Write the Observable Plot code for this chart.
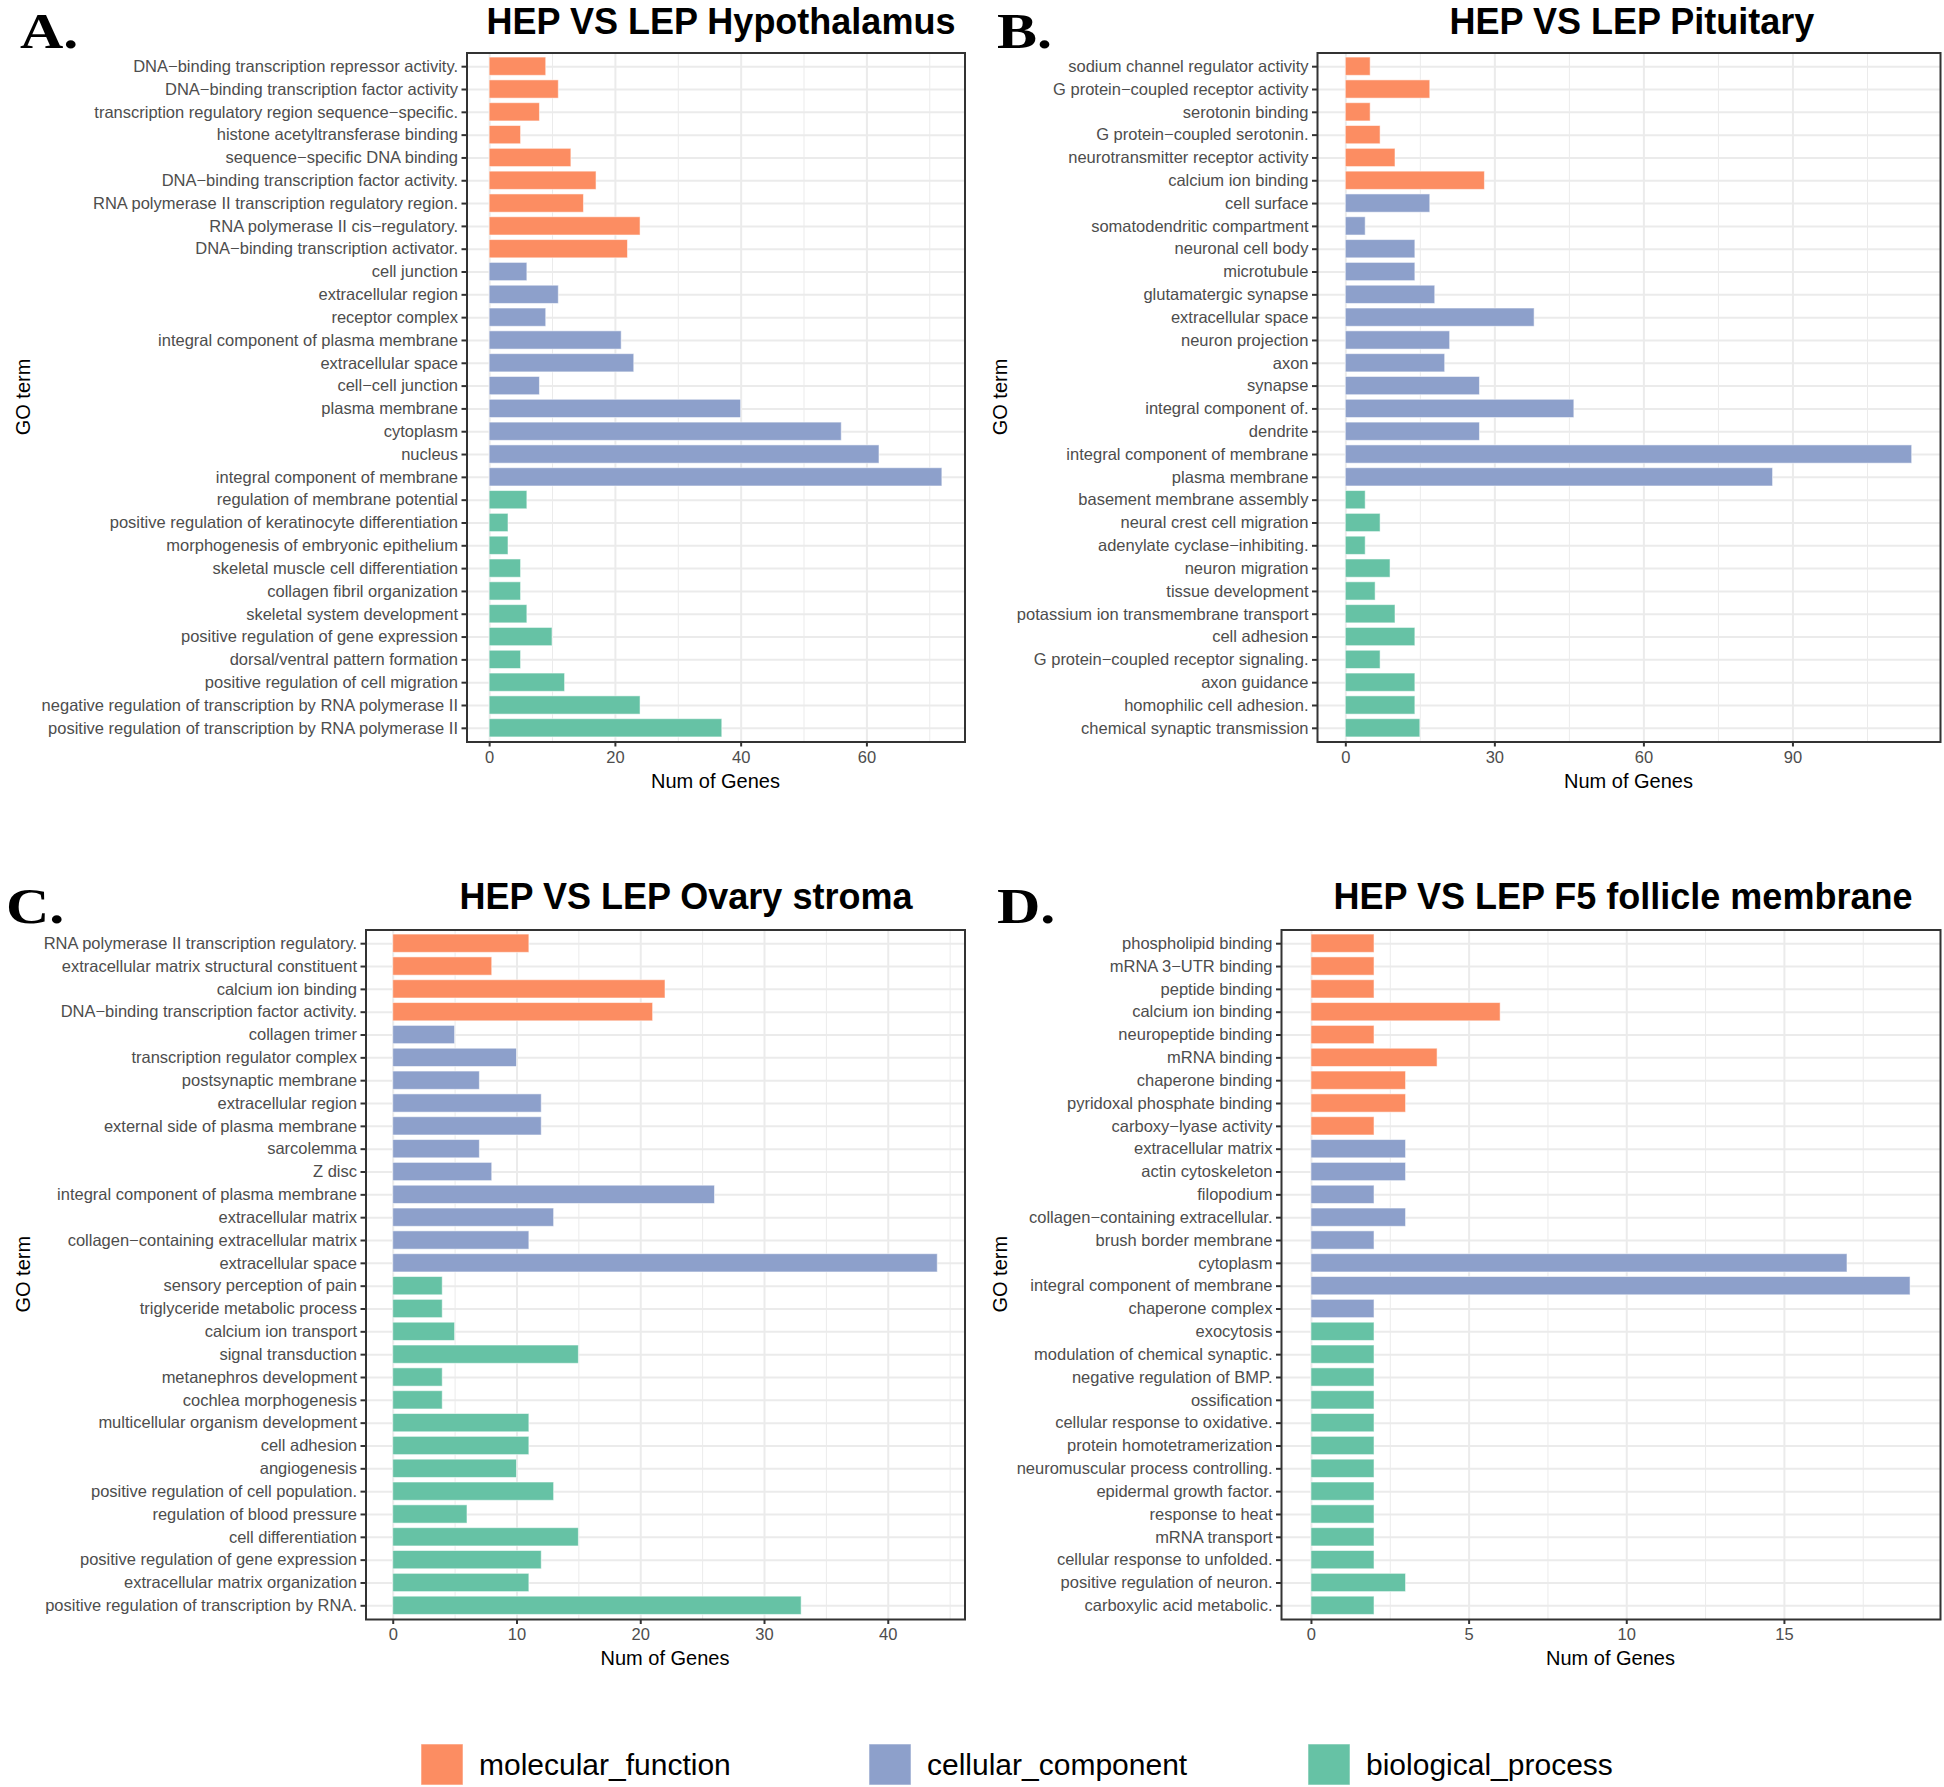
<!DOCTYPE html>
<html><head><meta charset="utf-8">
<script src="https://cdn.jsdelivr.net/npm/d3@7"></script>
<script src="https://cdn.jsdelivr.net/npm/@observablehq/plot@0.6"></script>
<style>
html,body{margin:0;padding:0;background:#fff;}
#root{position:relative;width:1944px;height:1787px;overflow:hidden;background:#fff;}
.panel{position:absolute;}
#overlay{position:absolute;left:0;top:0;}
</style></head>
<body><div id="root"></div>
<script>
// ---------- data ----------
const ontologies = ["molecular_function", "cellular_component", "biological_process"];
const ontologyColors = ["#FC8D62", "#8DA0CB", "#66C2A5"];

const titleA = "HEP VS LEP Hypothalamus";
const termsA = [
  "DNA−binding transcription repressor activity.",
  "DNA−binding transcription factor activity",
  "transcription regulatory region sequence−specific.",
  "histone acetyltransferase binding",
  "sequence−specific DNA binding",
  "DNA−binding transcription factor activity.",
  "RNA polymerase II transcription regulatory region.",
  "RNA polymerase II cis−regulatory.",
  "DNA−binding transcription activator.",
  "cell junction",
  "extracellular region",
  "receptor complex",
  "integral component of plasma membrane",
  "extracellular space",
  "cell−cell junction",
  "plasma membrane",
  "cytoplasm",
  "nucleus",
  "integral component of membrane",
  "regulation of membrane potential",
  "positive regulation of keratinocyte differentiation",
  "morphogenesis of embryonic epithelium",
  "skeletal muscle cell differentiation",
  "collagen fibril organization",
  "skeletal system development",
  "positive regulation of gene expression",
  "dorsal/ventral pattern formation",
  "positive regulation of cell migration",
  "negative regulation of transcription by RNA polymerase II",
  "positive regulation of transcription by RNA polymerase II"
];
const genesA = [9, 11, 8, 5, 13, 17, 15, 24, 22, 6, 11, 9, 21, 23, 8, 40, 56, 62, 72, 6, 3, 3, 5, 5, 6, 10, 5, 12, 24, 37];
const ontA = ["MF","MF","MF","MF","MF","MF","MF","MF","MF",
  "CC","CC","CC","CC","CC","CC","CC","CC","CC","CC",
  "BP","BP","BP","BP","BP","BP","BP","BP","BP","BP","BP"];
const ticksA = [0, 20, 40, 60];
const minorA = [10, 30, 50, 70];

const titleB = "HEP VS LEP Pituitary";
const termsB = [
  "sodium channel regulator activity",
  "G protein−coupled receptor activity",
  "serotonin binding",
  "G protein−coupled serotonin.",
  "neurotransmitter receptor activity",
  "calcium ion binding",
  "cell surface",
  "somatodendritic compartment",
  "neuronal cell body",
  "microtubule",
  "glutamatergic synapse",
  "extracellular space",
  "neuron projection",
  "axon",
  "synapse",
  "integral component of.",
  "dendrite",
  "integral component of membrane",
  "plasma membrane",
  "basement membrane assembly",
  "neural crest cell migration",
  "adenylate cyclase−inhibiting.",
  "neuron migration",
  "tissue development",
  "potassium ion transmembrane transport",
  "cell adhesion",
  "G protein−coupled receptor signaling.",
  "axon guidance",
  "homophilic cell adhesion.",
  "chemical synaptic transmission"
];
const genesB = [5, 17, 5, 7, 10, 28, 17, 4, 14, 14, 18, 38, 21, 20, 27, 46, 27, 114, 86, 4, 7, 4, 9, 6, 10, 14, 7, 14, 14, 15];
const ontB = ["MF","MF","MF","MF","MF","MF",
  "CC","CC","CC","CC","CC","CC","CC","CC","CC","CC","CC","CC","CC",
  "BP","BP","BP","BP","BP","BP","BP","BP","BP","BP","BP"];
const ticksB = [0, 30, 60, 90];
const minorB = [15, 45, 75, 105];

const titleC = "HEP VS LEP Ovary stroma";
const termsC = [
  "RNA polymerase II transcription regulatory.",
  "extracellular matrix structural constituent",
  "calcium ion binding",
  "DNA−binding transcription factor activity.",
  "collagen trimer",
  "transcription regulator complex",
  "postsynaptic membrane",
  "extracellular region",
  "external side of plasma membrane",
  "sarcolemma",
  "Z disc",
  "integral component of plasma membrane",
  "extracellular matrix",
  "collagen−containing extracellular matrix",
  "extracellular space",
  "sensory perception of pain",
  "triglyceride metabolic process",
  "calcium ion transport",
  "signal transduction",
  "metanephros development",
  "cochlea morphogenesis",
  "multicellular organism development",
  "cell adhesion",
  "angiogenesis",
  "positive regulation of cell population.",
  "regulation of blood pressure",
  "cell differentiation",
  "positive regulation of gene expression",
  "extracellular matrix organization",
  "positive regulation of transcription by RNA."
];
const genesC = [11, 8, 22, 21, 5, 10, 7, 12, 12, 7, 8, 26, 13, 11, 44, 4, 4, 5, 15, 4, 4, 11, 11, 10, 13, 6, 15, 12, 11, 33];
const ontC = ["MF","MF","MF","MF",
  "CC","CC","CC","CC","CC","CC","CC","CC","CC","CC","CC",
  "BP","BP","BP","BP","BP","BP","BP","BP","BP","BP","BP","BP","BP","BP","BP"];
const ticksC = [0, 10, 20, 30, 40];
const minorC = [5, 15, 25, 35, 45];

const titleD = "HEP VS LEP F5 follicle membrane";
const termsD = [
  "phospholipid binding",
  "mRNA 3−UTR binding",
  "peptide binding",
  "calcium ion binding",
  "neuropeptide binding",
  "mRNA binding",
  "chaperone binding",
  "pyridoxal phosphate binding",
  "carboxy−lyase activity",
  "extracellular matrix",
  "actin cytoskeleton",
  "filopodium",
  "collagen−containing extracellular.",
  "brush border membrane",
  "cytoplasm",
  "integral component of membrane",
  "chaperone complex",
  "exocytosis",
  "modulation of chemical synaptic.",
  "negative regulation of BMP.",
  "ossification",
  "cellular response to oxidative.",
  "protein homotetramerization",
  "neuromuscular process controlling.",
  "epidermal growth factor.",
  "response to heat",
  "mRNA transport",
  "cellular response to unfolded.",
  "positive regulation of neuron.",
  "carboxylic acid metabolic."
];
const genesD = [2, 2, 2, 6, 2, 4, 3, 3, 2, 3, 3, 2, 3, 2, 17, 19, 2, 2, 2, 2, 2, 2, 2, 2, 2, 2, 2, 2, 3, 2];
const ontD = ["MF","MF","MF","MF","MF","MF","MF","MF","MF",
  "CC","CC","CC","CC","CC","CC","CC","CC",
  "BP","BP","BP","BP","BP","BP","BP","BP","BP","BP","BP","BP","BP"];
const ticksD = [0, 5, 10, 15];
const minorD = [2.5, 7.5, 12.5, 17.5];

const ontKey = {MF: "molecular_function", CC: "cellular_component", BP: "biological_process"};
const xTitle = "Num of Genes";
const yTitle = "GO term";
const panelLetters = ["A.", "B.", "C.", "D."];

// ---------- layout ----------
const SANS = "'Liberation Sans', Arial, Helvetica, sans-serif";
const SERIF = "'Liberation Serif', 'Times New Roman', serif";
const root = document.getElementById("root");

const panels = [
  {title: titleA, terms: termsA, genes: genesA, ont: ontA, ticks: ticksA, minor: minorA,
   box: {left: 0, top: 0, w: 975, h: 800}, frame: {left: 466.5, right: 964.5, top: 52.5, bottom: 741.5},
   titleX: 721, titleY: 34, letterX: 20, letterY: 48, ylabX: 23},
  {title: titleB, terms: termsB, genes: genesB, ont: ontB, ticks: ticksB, minor: minorB,
   box: {left: 975, top: 0, w: 969, h: 800}, frame: {left: 1317, right: 1940, top: 52.5, bottom: 741.5},
   titleX: 1632, titleY: 34, letterX: 997, letterY: 48, ylabX: 1000},
  {title: titleC, terms: termsC, genes: genesC, ont: ontC, ticks: ticksC, minor: minorC,
   box: {left: 0, top: 870, w: 975, h: 800}, frame: {left: 365.5, right: 964.5, top: 929.5, bottom: 1619},
   titleX: 686, titleY: 909, letterX: 6, letterY: 923, ylabX: 23},
  {title: titleD, terms: termsD, genes: genesD, ont: ontD, ticks: ticksD, minor: minorD,
   box: {left: 975, top: 870, w: 969, h: 800}, frame: {left: 1281, right: 1940, top: 929.5, bottom: 1619},
   titleX: 1623, titleY: 909, letterX: 997, letterY: 923, ylabX: 1000}
];

for (const p of panels) {
  const data = p.terms.map((t, i) => ({term: t, n: p.genes[i], ont: ontKey[p.ont[i]]}));
  const max = d3.max(p.genes);
  const pad = max * 0.05; // ggplot default expansion
  const chart = Plot.plot({
    width: p.box.w,
    height: p.box.h,
    marginLeft: p.frame.left - p.box.left,
    marginRight: p.box.left + p.box.w - p.frame.right,
    marginTop: p.frame.top - p.box.top,
    marginBottom: p.box.top + p.box.h - p.frame.bottom,
    style: {background: "transparent", fontFamily: SANS, fontSize: "16.5px", overflow: "visible"},
    x: {domain: [-pad, max + pad]},
    y: {type: "band", domain: p.terms, paddingInner: 0.2, paddingOuter: 0.2, round: false},
    color: {domain: ontologies, range: ontologyColors},
    marks: [
      Plot.ruleX(p.minor, {stroke: "#EBEBEB", strokeWidth: 1}),
      Plot.ruleX(p.ticks, {stroke: "#EBEBEB", strokeWidth: 2}),
      Plot.ruleY(p.terms, {stroke: "#EBEBEB", strokeWidth: 2}),
      Plot.barX(data, {x: "n", y: "term", fill: "ont", stroke: "#ffffff", strokeWidth: 1, strokeOpacity: 0.55}),
      Plot.frame({stroke: "#333333", strokeWidth: 2}),
      Plot.axisY({tickSize: 5, tickPadding: 4, stroke: "#333333", strokeWidth: 2, fill: "#4D4D4D", fontSize: 16.5, label: null}),
      Plot.axisX({ticks: p.ticks, tickSize: 5, tickPadding: 4, stroke: "#333333", strokeWidth: 2, fill: "#4D4D4D", fontSize: 16.5, label: null})
    ]
  });
  chart.classList.add("panel");
  chart.style.left = p.box.left + "px";
  chart.style.top = p.box.top + "px";
  root.appendChild(chart);
}

// ---------- annotations (titles, panel letters, axis titles, legend) ----------
const svg = d3.select(root).append("svg")
  .attr("id", "overlay").attr("width", 1944).attr("height", 1787)
  .style("pointer-events", "none");

panels.forEach((p, i) => {
  svg.append("text").text(panelLetters[i])
    .attr("transform", `translate(${p.letterX},${p.letterY}) scale(1.2,1)`)
    .attr("font-family", SERIF).attr("font-weight", "bold").attr("font-size", 50).attr("fill", "#000");
  svg.append("text").text(p.title)
    .attr("x", p.titleX).attr("y", p.titleY).attr("text-anchor", "middle")
    .attr("font-family", SANS).attr("font-weight", "bold").attr("font-size", 36).attr("fill", "#000");
  svg.append("text").text(xTitle)
    .attr("x", (p.frame.left + p.frame.right) / 2).attr("y", p.frame.bottom + 46).attr("text-anchor", "middle")
    .attr("font-family", SANS).attr("font-size", 20).attr("fill", "#000");
  const cy = (p.frame.top + p.frame.bottom) / 2;
  svg.append("text").text(yTitle)
    .attr("transform", `translate(${p.ylabX + 7},${cy}) rotate(-90)`).attr("text-anchor", "middle")
    .attr("font-family", SANS).attr("font-size", 20).attr("fill", "#000");
});

const legendX = [421, 869, 1308];
ontologies.forEach((o, i) => {
  svg.append("rect").attr("x", legendX[i]).attr("y", 1744).attr("width", 42).attr("height", 41)
    .attr("fill", ontologyColors[i]).attr("stroke", "#fff").attr("stroke-opacity", 0.55);
  svg.append("text").text(o)
    .attr("x", legendX[i] + 58).attr("y", 1775)
    .attr("font-family", SANS).attr("font-size", 30).attr("fill", "#000");
});
</script></body></html>
